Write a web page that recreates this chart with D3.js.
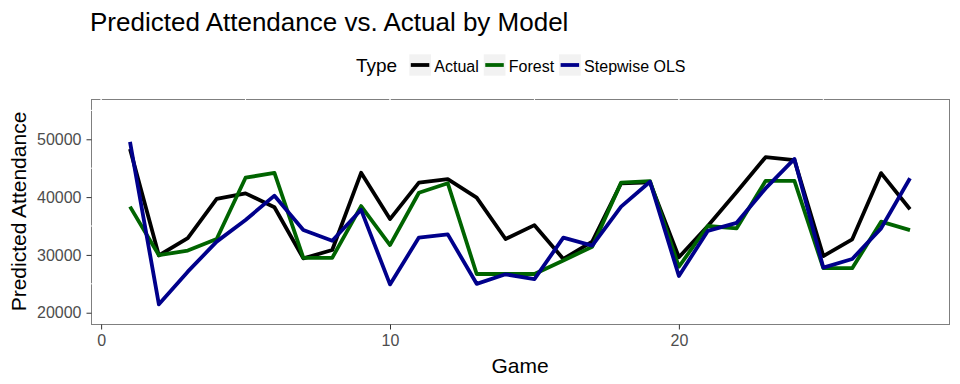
<!DOCTYPE html>
<html>
<head>
<meta charset="utf-8">
<script src="https://cdn.jsdelivr.net/npm/d3@7"></script>
<style>
  html, body { margin: 0; padding: 0; background: #fff; }
  svg { display: block; font-family: "Liberation Sans", Arial, sans-serif; }
</style>
</head>
<body>
<svg id="chart" width="960" height="384"></svg>
<script>
// ---- data ----
const games = [1,2,3,4,5,6,7,8,9,10,11,12,13,14,15,16,17,18,19,20,21,22,23,24,25,26,27,28];
const actual   = [48300,29900,32900,39700,40650,38250,29400,30850,44200,36200,42500,43100,39900,32750,35150,29300,32300,42400,42550,29600,35000,40900,46900,46400,29800,32700,44150,37900];
const forest   = [38350,29950,30750,32750,43350,44200,29500,29500,38450,31700,40750,42400,26700,26700,26700,29050,31400,42500,42750,27950,35000,34600,42800,42800,27700,27700,35750,34300];
const stepwise = [49550,21450,27100,32300,36050,40250,34300,32450,37800,24900,33000,33550,25000,26650,25800,33000,31600,38350,42650,26350,34150,35550,41500,46600,27800,29300,34600,43250];
const seriesNames = ["Actual", "Forest", "Stepwise OLS"];
const seriesColors = ["#000000", "#006400", "#00008B"];
const xTicks = [0, 10, 20];
const xMinor = [5, 15, 25];
const yTicks = [20000, 30000, 40000, 50000];
const yMinor = [25000, 35000, 45000, 55000];
const titleText = "Predicted Attendance vs. Actual by Model";
const xTitle = "Game";
const yTitle = "Predicted Attendance";
const legendTitle = "Type";

// ---- layout ----
const L = 91, R = 949, T = 99, B = 324;
const svg = d3.select("#chart");

const x = d3.scaleLinear().domain([-0.35, 29.35]).range([L, R]);
const y = d3.scaleLinear().domain([18050, 56970]).range([B, T]);

// panel background + border
svg.append("rect")
  .attr("x", L + 0.5).attr("y", T + 0.5)
  .attr("width", R - L).attr("height", B - T)
  .attr("fill", "#fff").attr("stroke", "#7f7f7f").attr("stroke-width", 1);

// white grid lines (overlapping the border, as in the reference)
const grid = svg.append("g");
grid.selectAll("line.vmin").data(xMinor).join("line")
  .attr("x1", d => x(d)).attr("x2", d => x(d)).attr("y1", T).attr("y2", B)
  .attr("stroke", "#fff").attr("stroke-width", 1);
grid.selectAll("line.vmaj").data(xTicks).join("line")
  .attr("x1", d => x(d)).attr("x2", d => x(d)).attr("y1", T).attr("y2", B)
  .attr("stroke", "#fff").attr("stroke-width", 1.5);
grid.selectAll("line.hmin").data(yMinor).join("line")
  .attr("y1", d => y(d)).attr("y2", d => y(d)).attr("x1", L).attr("x2", R)
  .attr("stroke", "#fff").attr("stroke-width", 1);

// lines
const allSeries = [actual, forest, stepwise];
const line = d3.line().x((d, i) => x(games[i])).y(d => y(d));
svg.append("g").selectAll("path").data(allSeries).join("path")
  .attr("d", d => line(d))
  .attr("fill", "none")
  .attr("stroke", (d, i) => seriesColors[i])
  .attr("stroke-width", 3.8)
  .attr("stroke-linejoin", "round")
  .attr("stroke-linecap", "butt");

// axes
const xAxis = d3.axisBottom(x).tickValues(xTicks).tickSize(5).tickPadding(4).tickFormat(d3.format("d"));
const gx = svg.append("g").attr("transform", `translate(0,${B + 0.5})`).call(xAxis);
gx.select(".domain").remove();
gx.selectAll(".tick line").attr("stroke", "#333");
gx.selectAll(".tick text").attr("fill", "#4d4d4d").attr("font-size", 16)
  .attr("font-family", "Liberation Sans, Arial, sans-serif").attr("dy", "0.75em");

const yAxis = d3.axisLeft(y).tickValues(yTicks).tickSize(5).tickPadding(5).tickFormat(d3.format("d"));
const gy = svg.append("g").attr("transform", `translate(${L + 0.5},0)`).call(yAxis);
gy.select(".domain").remove();
gy.selectAll(".tick line").attr("stroke", "#333");
gy.selectAll(".tick text").attr("fill", "#4d4d4d").attr("font-size", 16)
  .attr("font-family", "Liberation Sans, Arial, sans-serif");

// titles
svg.append("text").attr("x", 90).attr("y", 31)
  .attr("font-size", 26).attr("fill", "#000").text(titleText);
svg.append("text").attr("x", (L + R) / 2).attr("y", 373)
  .attr("text-anchor", "middle").attr("font-size", 21).attr("fill", "#000").text(xTitle);
svg.append("text")
  .attr("transform", `translate(26,${(T + B) / 2}) rotate(-90)`)
  .attr("text-anchor", "middle").attr("font-size", 21).attr("fill", "#000").text(yTitle);

// legend
const lg = svg.append("g");
lg.append("text").attr("x", 356).attr("y", 72.3).attr("font-size", 19).attr("fill", "#000").text(legendTitle);
let kx = 409.3;
seriesNames.forEach((name, i) => {
  lg.append("rect").attr("x", kx).attr("y", 54.3).attr("width", 21.7).attr("height", 21.4).attr("fill", "#f2f2f2");
  lg.append("line").attr("x1", kx + 1.5).attr("x2", kx + 20).attr("y1", 65).attr("y2", 65)
    .attr("stroke", seriesColors[i]).attr("stroke-width", 3.8);
  const t = lg.append("text").attr("x", kx + 25).attr("y", 71.7).attr("font-size", 16).attr("fill", "#000").text(name);
  kx = kx + 25 + t.node().getComputedTextLength() + 5;
});
</script>
</body>
</html>
